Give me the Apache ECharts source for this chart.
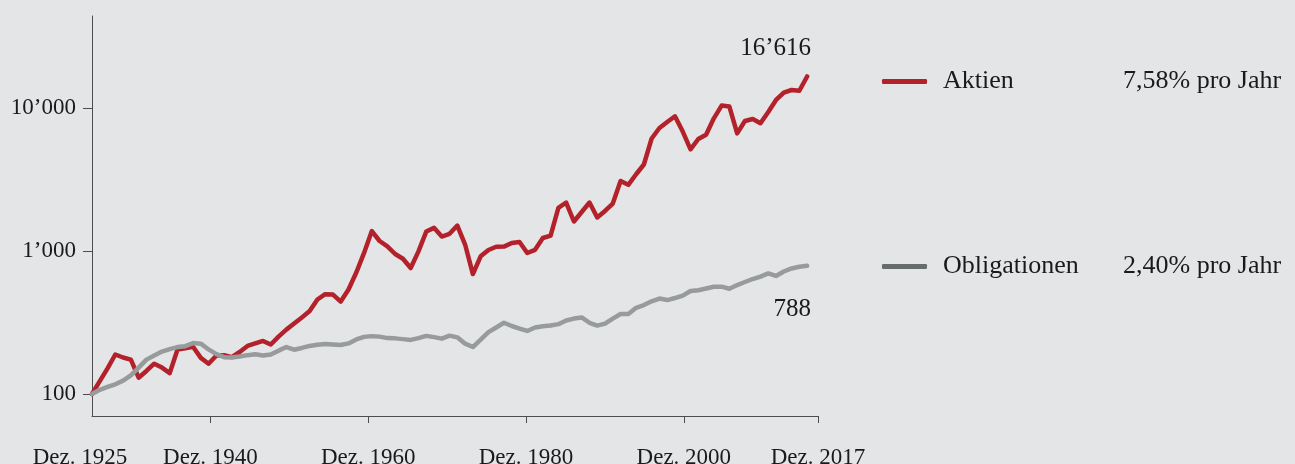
<!DOCTYPE html>
<html>
<head>
<meta charset="utf-8">
<title>Aktien vs. Obligationen</title>
<script src="https://cdn.jsdelivr.net/npm/echarts@6/dist/echarts.min.js"></script>
<style>
  html, body { margin: 0; padding: 0; background: #e4e5e7; }
  #chart { width: 1295px; height: 464px; }
</style>
</head>
<body>
<div id="chart"></div>
<script>
// Jahresendwerte, Dez. 1925 = 100
const years = []
for (let y = 1925; y <= 2017; y++) years.push(y)

const aktien = [
  100, 123, 151, 189, 180, 174, 130, 145, 163, 153,
  140, 205, 209, 214, 179, 163, 186, 187, 181, 197,
  217, 226, 235, 222, 252, 282, 311, 343, 380, 458,
  499, 496, 443, 538, 707, 970, 1380, 1175, 1077, 953,
  883, 760, 995, 1368, 1452, 1262, 1319, 1507, 1110, 690,
  918, 1016, 1072, 1074, 1137, 1156, 968, 1019, 1233, 1283,
  2000, 2183, 1608, 1874, 2183, 1715, 1905, 2148, 3090, 2904,
  3443, 4027, 6120, 7244, 7980, 8750, 6840, 5143, 6070, 6500,
  8470, 10400, 10240, 6650, 8110, 8380, 7820, 9370, 11380, 12830,
  13360, 13210, 16616
]

const obligationen = [
  100, 107, 112, 117, 124, 135, 153, 174, 186, 198,
  206, 213, 216, 227, 225, 205, 190, 181, 180, 183,
  187, 190, 186, 189, 201, 213, 204, 210, 217, 221,
  224, 222, 220, 226, 241, 251, 254, 252, 246, 245,
  242, 239, 246, 255, 250, 244, 256, 249, 225, 213,
  240, 271, 292, 315, 299, 287, 276, 292, 298, 301,
  308, 327, 337, 343, 315, 301, 311, 337, 363, 363,
  401, 419, 445, 465, 454, 469, 488, 525, 532, 547,
  563, 563, 545, 578, 607, 637, 663, 697, 669, 719,
  755, 776, 788
]

const tickYears = [1940, 1960, 1980, 2000, 2017]
const labelYears = [1925, 1940, 1960, 1980, 2000, 2017]
const yTicks = [100, 1000, 10000]
const rates = { Aktien: '7,58% pro Jahr', Obligationen: '2,40% pro Jahr' }

const FONT = '"Liberation Serif", "Times New Roman", serif'
const TEXT = '#1a1a1a'
const AXIS = '#4d4d4d'
const RED = '#b3212b'
const GREY = '#979b9b'

// 1'000-Trennzeichen wie im Original
function fmt(v) {
  return String(Math.round(v)).replace(/\B(?=(\d{3})+(?!\d))/g, '\u2019')
}

function legendFor(name, top, color) {
  return {
    data: [{ name: name, itemStyle: { color: color, borderWidth: 0 } }],
    left: 882,
    top: top,
    orient: 'vertical',
    icon: 'roundRect',
    itemWidth: 45,
    itemHeight: 5,
    padding: 0,
    selectedMode: false,
    formatter: n => '{n|' + n + '}{r|' + rates[n] + '}',
    textStyle: {
      rich: {
        n: { width: 180, padding: [0, 0, 0, 11], fontSize: 26, lineHeight: 30, fontFamily: FONT, color: TEXT },
        r: { fontSize: 26, lineHeight: 30, fontFamily: FONT, color: TEXT }
      }
    }
  }
}

const chart = echarts.init(document.getElementById('chart'))
chart.setOption({
  backgroundColor: '#e4e5e7',
  animation: false,
  textStyle: { fontFamily: FONT, color: TEXT },
  grid: { left: 92, right: 477, top: 16, bottom: 48, containLabel: false, outerBoundsMode: 'none' },
  legend: [
    legendFor('Aktien', 68.5, RED),
    legendFor('Obligationen', 253.5, '#676c6c')
  ],
  xAxis: [
    {
      // sichtbare Achse mit Beschriftung
      type: 'value',
      min: 1925,
      max: 2017,
      axisLine: { onZero: false, lineStyle: { color: AXIS, width: 1 } },
      axisTick: { customValues: tickYears, length: 7, lineStyle: { color: AXIS } },
      axisLabel: {
        customValues: labelYears,
        margin: 30,
        fontSize: 23,
        fontFamily: FONT,
        color: TEXT,
        formatter: v => v === 1925 ? '{first|Dez. 1925}' : 'Dez. ' + v,
        rich: {
          first: { padding: [0, 24, 0, 0], fontSize: 23, fontFamily: FONT, color: TEXT }
        }
      },
      splitLine: { show: false }
    },
    {
      // Datenachse (Linien enden vor dem Achsenende)
      type: 'value',
      min: 1925,
      max: 2018.4,
      show: false
    }
  ],
  yAxis: {
    type: 'log',
    logBase: 10,
    min: 70.2,
    max: 43990,
    axisLine: { show: true, lineStyle: { color: AXIS, width: 1 } },
    axisTick: { show: true, customValues: yTicks, length: 9, lineStyle: { color: AXIS } },
    axisLabel: {
      customValues: yTicks,
      margin: 16,
      fontSize: 23,
      fontFamily: FONT,
      color: TEXT,
      padding: [5, 0, 0, 0],
      formatter: v => fmt(v)
    },
    splitLine: { show: false }
  },
  series: [
    {
      name: 'Aktien',
      type: 'line',
      xAxisIndex: 1,
      data: years.map((y, i) => [y, aktien[i]]),
      symbol: 'none',
      lineStyle: { color: RED, width: 4.5, join: 'round', cap: 'round' },
      itemStyle: { color: RED },
      markPoint: {
        symbol: 'circle',
        symbolSize: 0,
        data: [{
          coord: [2017, aktien[aktien.length - 1]],
          label: {
            show: true,
            position: 'inside',
            align: 'right',
            offset: [4, -28],
            formatter: () => fmt(aktien[aktien.length - 1]),
            fontSize: 25,
            fontFamily: FONT,
            color: TEXT
          }
        }]
      }
    },
    {
      name: 'Obligationen',
      type: 'line',
      xAxisIndex: 1,
      data: years.map((y, i) => [y, obligationen[i]]),
      symbol: 'none',
      lineStyle: { color: GREY, width: 4.5, join: 'round', cap: 'round' },
      itemStyle: { color: GREY },
      markPoint: {
        symbol: 'circle',
        symbolSize: 0,
        data: [{
          coord: [2017, obligationen[obligationen.length - 1]],
          label: {
            show: true,
            position: 'inside',
            align: 'right',
            offset: [4, 44],
            formatter: () => fmt(obligationen[obligationen.length - 1]),
            fontSize: 25,
            fontFamily: FONT,
            color: TEXT
          }
        }]
      }
    }
  ]
})
</script>
</body>
</html>
